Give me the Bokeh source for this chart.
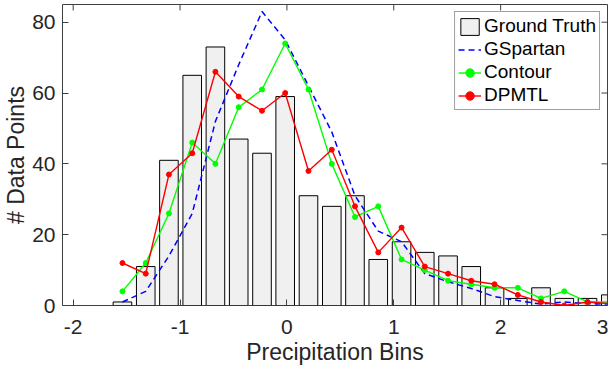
import math
from bokeh.plotting import figure
from bokeh.models import FixedTicker, Legend, LegendItem, Range1d, ColumnDataSource
from bokeh.embed import file_html
from bokeh.resources import INLINE

# ---- data ----
bin_centers = [-1.539, -1.321, -1.104, -0.886, -0.669, -0.451, -0.233, -0.016, 0.202, 0.420, 0.637,
               0.855, 1.073, 1.290, 1.508, 1.725, 1.943, 2.161, 2.378, 2.596, 2.813, 3.031]
ground_truth = [1, 11, 41, 65, 73, 47, 43, 59, 31, 28, 31, 13, 18, 15, 14, 11, 5, 2, 5, 2, 2, 3]
gspartan = [1, 4, 14, 26, 52, 68, 83, 75, 62, 49, 31, 21, 18, 9, 6.7, 4.8, 2.5, 1.4, 0.4, 1, 0.5, 0.4]
contour = [4, 12, 26, 46, 40, 56, 61, 74, 61, 40, 25, 28, 13, 10, 7, 6, 5, 5, 2, 4, 1, 1]
dpmtl = [12, 9, 37, 43, 66, 59, 55, 60, 38, 44, 28, 15, 22, 11, 9, 7, 6, 3, 1, 0, 1, 0.5]

x_ticks = [-2, -1, 0, 1, 2, 3]
x_tick_labels = ["-2", "-1", "0", "1", "2", "3"]
y_ticks = [0, 20, 40, 60, 80]
y_tick_labels = ["0", "20", "40", "60", "80"]

x_min, x_max = -2.1, 3.0
y_min, y_max = 0, 85

bar_width = 0.174
FONT = "Liberation Sans"
TEXT = "#262626"
AXIS = "#404040"

src = ColumnDataSource(dict(x=bin_centers, gt=ground_truth, gs=gspartan, ct=contour, dp=dpmtl))

p = figure(frame_width=545, frame_height=301,
           x_range=Range1d(x_min, x_max), y_range=Range1d(y_min, y_max),
           output_backend="svg", toolbar_location=None,
           min_border_left=55, min_border_right=1, min_border_top=4, min_border_bottom=50,
           background_fill_color="white", border_fill_color="white")
p.outline_line_color = AXIS
p.outline_line_width = 1
p.xgrid.visible = False
p.ygrid.visible = False

bars = p.vbar(x="x", top="gt", width=bar_width, source=src,
              fill_color="#f0f0f0", line_color="#000000", line_width=1)
gs_line = p.line("x", "gs", source=src, line_color="#0000ff", line_width=1.5, line_dash="6 4")
ct_line = p.line("x", "ct", source=src, line_color="#00ff00", line_width=1.4)
ct_pts = p.scatter("x", "ct", source=src, size=5, fill_color="#00ff00", line_color="#00ff00")
dp_line = p.line("x", "dp", source=src, line_color="#ff0000", line_width=1.4)
dp_pts = p.scatter("x", "dp", source=src, size=5, fill_color="#ff0000", line_color="#ff0000")

# mirrored tick marks on the top and right edges of the box
p.ray(x=x_ticks, y=[y_max] * len(x_ticks), length=6, length_units="screen",
      angle=-math.pi / 2, line_color=AXIS, line_width=1)
p.ray(x=[x_max] * len(y_ticks), y=y_ticks, length=6, length_units="screen",
      angle=math.pi, line_color=AXIS, line_width=1)


def style_axis(ax, ticks, labels):
    ax.ticker = FixedTicker(ticks=ticks)
    ax.major_label_overrides = {t: l for t, l in zip(ticks, labels)}
    ax.major_tick_in = 6
    ax.major_tick_out = 0
    ax.major_tick_line_color = AXIS
    ax.minor_tick_line_color = None
    ax.axis_line_color = None
    ax.major_label_text_font = FONT
    ax.major_label_text_color = TEXT
    ax.major_label_text_font_size = "21px"
    ax.axis_label_text_font = FONT
    ax.axis_label_text_color = TEXT
    ax.axis_label_text_font_style = "normal"
    ax.axis_label_text_font_size = "23px"


xa = p.xaxis[0]
style_axis(xa, x_ticks, x_tick_labels)
xa.axis_label = "Precipitation Bins"
xa.major_label_standoff = 14
xa.axis_label_standoff = 2

ya = p.yaxis[0]
style_axis(ya, y_ticks, y_tick_labels)
ya.axis_label = "# Data Points"
ya.major_label_standoff = 7
ya.axis_label_standoff = 0

legend = Legend(items=[
    LegendItem(label="Ground Truth", renderers=[bars]),
    LegendItem(label="GSpartan", renderers=[gs_line]),
    LegendItem(label="Contour", renderers=[ct_line, ct_pts]),
    LegendItem(label="DPMTL", renderers=[dp_line, dp_pts]),
], location="top_right")
legend.margin = 7
legend.padding = 3
legend.spacing = 1
legend.glyph_width = 23
legend.glyph_height = 21
legend.label_height = 21
legend.label_standoff = 3
legend.label_text_font = FONT
legend.label_text_font_size = "19px"
legend.label_text_color = "#000000"
legend.border_line_color = AXIS
legend.border_line_width = 1
legend.background_fill_color = "white"
legend.background_fill_alpha = 1
p.add_layout(legend)

open("out.html", "w").write(file_html(p, INLINE))
